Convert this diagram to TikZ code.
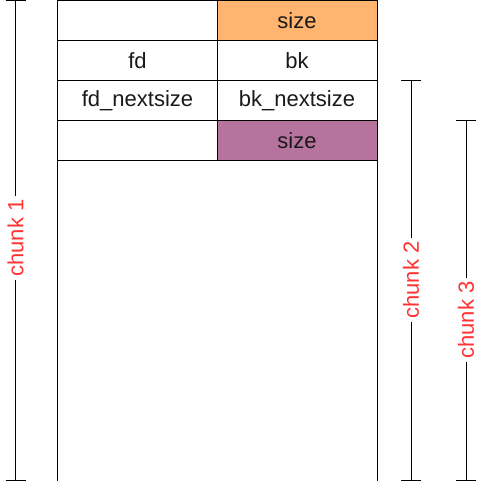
\documentclass[tikz,border=0pt]{standalone}
\usepackage{fontspec}
\setmainfont{Liberation Sans}
\definecolor{orangefill}{HTML}{FFB570}
\definecolor{purplefill}{HTML}{B5739D}
\definecolor{labelred}{HTML}{FF3333}
\begin{document}
\begin{tikzpicture}[x=1pt,y=-1pt,
  cell/.style={draw=black,line width=1pt,minimum width=160pt,minimum height=40pt,inner sep=0pt,anchor=north west,
    font=\fontsize{22}{26}\selectfont,text=black!90},
  rng/.style={draw=black,line width=1pt},
  chunklabel/.style={fill=white,text=labelred,rotate=90,inner sep=3pt,font=\fontsize{22}{26}\selectfont}]
\useasboundingbox (0,0) rectangle (482,481);
% table
\node[cell] (a1) at (57,0.5) {};
\node[cell,fill=orangefill] (a2) at (216.5,0.5) {size};
\node[cell] (b1) at (57,40.5) {fd};
\node[cell] (b2) at (216.5,40.5) {bk};
\node[cell] (c1) at (57,80.5) {fd\_nextsize};
\node[cell] (c2) at (216.5,80.5) {bk\_nextsize};
\node[cell] (d1) at (57,120.5) {};
\node[cell,fill=purplefill] (d2) at (216.5,120.5) {size};
\node[draw=black,line width=1pt,minimum width=319.5pt,minimum height=320pt,inner sep=0pt,anchor=north west] (body) at (57,160.5) {};
% chunk ranges
\coordinate (c1t) at (15.5,0.5);
\coordinate (c1b) at (15.5,480);
\draw[rng] (c1t) -- (c1b);
\draw[rng] ([xshift=-10pt]c1t) -- ([xshift=10pt]c1t);
\draw[rng] ([xshift=-10pt]c1b) -- ([xshift=10pt]c1b);
\node[chunklabel] (l1) at (15.5,238) {chunk 1};
\coordinate (c2t) at (411,80.5);
\coordinate (c2b) at (411,480);
\draw[rng] (c2t) -- (c2b);
\draw[rng] ([xshift=-10pt]c2t) -- ([xshift=10pt]c2t);
\draw[rng] ([xshift=-10pt]c2b) -- ([xshift=10pt]c2b);
\node[chunklabel] (l2) at (411,280) {chunk 2};
\coordinate (c3t) at (466,120.5);
\coordinate (c3b) at (466,480);
\draw[rng] (c3t) -- (c3b);
\draw[rng] ([xshift=-10pt]c3t) -- ([xshift=10pt]c3t);
\draw[rng] ([xshift=-10pt]c3b) -- ([xshift=10pt]c3b);
\node[chunklabel] (l3) at (466,320) {chunk 3};
\end{tikzpicture}
\end{document}
